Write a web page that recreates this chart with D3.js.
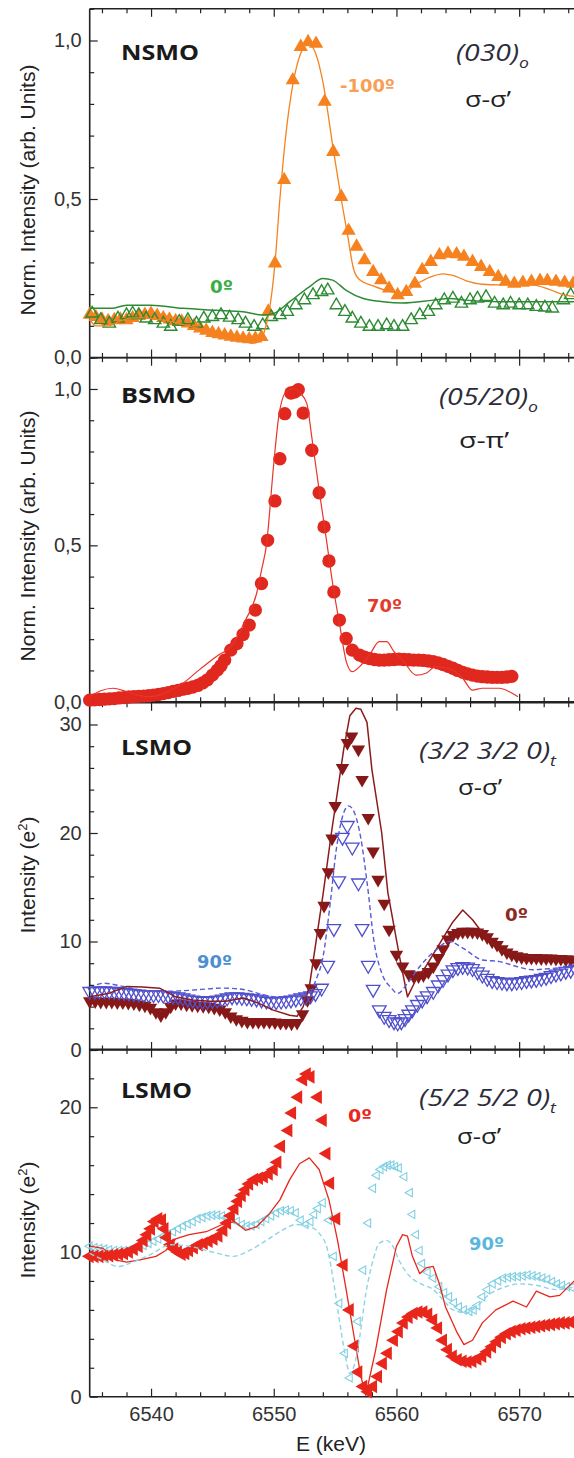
<!DOCTYPE html>
<html><head><meta charset="utf-8">
<script src="https://cdn.jsdelivr.net/npm/d3@7"></script>
<style>body{margin:0;background:#fff}svg{display:block}</style>
</head><body>
<svg id="c" width="574" height="1458"></svg>
<script>
// ---------------- DATA ----------------
const energyDomain = [6535, 6575];
const xMajorTicks = [6540, 6550, 6560, 6570];
const xTickLabels = ["6540", "6550", "6560", "6570"];

const normTickValues = [0, 0.5, 1.0];
const normTickLabels = ["0,0", "0,5", "1,0"];
const lsmoATickValues = [0, 10, 20, 30];
const lsmoATickLabels = ["0", "10", "20", "30"];
const lsmoBTickValues = [0, 10, 20];
const lsmoBTickLabels = ["0", "10", "20"];

// Panel 1: NSMO (030)o  sigma-sigma'
const nsmoM100Pts = [[6535.0,0.135],[6535.5,0.128],[6536.0,0.12],[6536.5,0.115],[6537.0,0.118],[6537.5,0.12],[6538.0,0.118],[6538.5,0.125],[6539.0,0.132],[6539.5,0.135],[6540.0,0.138],[6540.5,0.132],[6541.0,0.125],[6541.5,0.12],[6542.0,0.115],[6542.5,0.113],[6543.0,0.108],[6543.5,0.1],[6544.0,0.092],[6544.5,0.085],[6545.0,0.078],[6545.5,0.074],[6546.0,0.07],[6546.5,0.066],[6547.0,0.063],[6547.5,0.06],[6548.0,0.058],[6548.5,0.06],[6549.0,0.065],
 [6549.55,0.145],[6550.1,0.297],[6550.85,0.56],[6551.55,0.875],[6552.2,0.98],[6552.8,0.995],[6553.45,0.99],[6554.15,0.807],[6554.85,0.649],[6555.5,0.507],[6556.1,0.40],[6556.75,0.35],[6557.4,0.307],[6558.1,0.27],[6558.75,0.244],[6559.4,0.218],[6560.1,0.197],[6560.8,0.207],[6561.5,0.233],[6562.1,0.276],[6562.8,0.302],[6563.5,0.323],[6564.2,0.328],[6564.9,0.326],[6565.5,0.318],[6566.2,0.302],[6566.9,0.286],[6567.6,0.27],[6568.3,0.254],[6568.9,0.239],[6569.6,0.233],[6570.3,0.236],[6571.0,0.239],[6571.7,0.242],[6572.3,0.242],[6573.0,0.239],[6573.7,0.236],[6574.4,0.233]];
const nsmoM100Fit = [[6535.0,0.12],[6535.5,0.10],[6536.5,0.10],[6537.5,0.115],[6538.5,0.125],[6539.5,0.125],[6540.5,0.12],[6541.5,0.115],[6542.5,0.105],[6543.5,0.095],[6544.5,0.085],[6545.5,0.075],[6546.5,0.065],[6547.5,0.055],[6548.2,0.045],[6548.8,0.05],[6549.3,0.09],[6549.6,0.14],[6550.1,0.297],[6550.5,0.5],[6550.95,0.69],[6551.6,0.87],[6552.2,0.96],[6552.8,0.99],[6553.3,0.97],[6554.0,0.87],[6554.8,0.67],[6555.5,0.5],[6556.0,0.39],[6556.5,0.28],[6557.0,0.245],[6558.1,0.226],[6559.4,0.209],[6560.5,0.203],[6561.6,0.231],[6562.7,0.253],[6563.8,0.264],[6564.6,0.259],[6565.7,0.242],[6567.0,0.231],[6568.4,0.229],[6569.8,0.231],[6571.1,0.229],[6572.5,0.214],[6573.6,0.198],[6574.6,0.192]];
const nsmo0Pts = [[6535.2,0.139],[6535.9,0.118],[6536.6,0.107],[6537.3,0.123],[6538.0,0.134],[6538.5,0.139],[6539.0,0.134],[6539.6,0.123],[6540.3,0.118],[6541.0,0.107],[6541.6,0.097],[6542.3,0.113],[6543.0,0.118],[6543.7,0.107],[6544.3,0.123],[6545.0,0.128],[6545.7,0.134],[6546.4,0.126],[6547.1,0.118],[6547.7,0.107],[6548.4,0.097],[6549.1,0.102],[6549.8,0.128],[6550.5,0.134],[6551.1,0.144],[6551.8,0.165],[6552.5,0.181],[6553.2,0.197],[6553.9,0.207],[6554.4,0.212],[6555.1,0.165],[6555.8,0.144],[6556.4,0.123],[6557.1,0.107],[6557.8,0.097],[6558.5,0.097],[6559.2,0.102],[6559.8,0.097],[6560.5,0.097],[6561.2,0.118],[6561.9,0.134],[6562.6,0.144],[6563.2,0.165],[6563.9,0.181],[6564.6,0.186],[6565.3,0.17],[6566.0,0.181],[6566.6,0.186],[6567.3,0.191],[6568.0,0.17],[6568.7,0.165],[6569.3,0.17],[6570.0,0.165],[6570.7,0.165],[6571.4,0.16],[6572.1,0.158],[6572.7,0.155],[6573.6,0.181],[6574.2,0.197]];
const nsmo0Fit = [[6535.0,0.155],[6536.8,0.155],[6538.0,0.165],[6540.0,0.165],[6542.6,0.155],[6545.3,0.149],[6547.5,0.144],[6549.1,0.134],[6550.0,0.139],[6551.3,0.176],[6552.9,0.223],[6554.0,0.249],[6554.8,0.244],[6555.9,0.212],[6557.3,0.186],[6558.9,0.176],[6560.5,0.172],[6563.0,0.181],[6564.3,0.186],[6565.7,0.181],[6568.4,0.176],[6571.1,0.176],[6574.6,0.176]];

// Panel 2: BSMO (05/20)o  sigma-pi'
const bsmo70Pts = [[6535.0,0.005],[6535.4,0.006],[6535.8,0.007],[6536.2,0.008],[6536.6,0.009],[6537.0,0.01],[6537.4,0.012],[6537.8,0.013],[6538.2,0.015],[6538.6,0.016],[6539.0,0.017],[6539.4,0.018],[6539.8,0.019],[6540.2,0.021],[6540.6,0.023],[6541.0,0.026],[6541.4,0.029],[6541.8,0.033],[6542.2,0.036],[6542.6,0.04],[6543.0,0.043],[6543.4,0.047],[6543.8,0.052],[6544.2,0.06],[6544.6,0.07],[6545.0,0.085],[6545.4,0.101],[6545.7,0.115],[6546.0,0.133],[6546.5,0.165],[6547.0,0.186],[6547.5,0.215],[6548.0,0.245],[6548.5,0.293],[6549.0,0.378],[6549.5,0.516],[6550.1,0.642],[6550.5,0.777],[6550.9,0.921],[6551.4,0.987],[6551.7,0.99],[6552.0,0.998],[6552.4,0.923],[6553.1,0.804],[6553.7,0.668],[6554.1,0.559],[6554.5,0.45],[6554.9,0.351],[6555.35,0.261],[6555.9,0.202],[6556.4,0.165],[6557.0,0.149],[6557.4,0.142],[6557.8,0.138],[6558.2,0.135],[6558.6,0.133],[6559.0,0.133],[6559.4,0.134],[6559.8,0.135],[6560.2,0.136],[6560.6,0.135],[6561.0,0.134],[6561.4,0.133],[6561.8,0.133],[6562.2,0.132],[6562.6,0.13],[6563.0,0.128],[6563.4,0.124],[6563.8,0.119],[6564.2,0.113],[6564.6,0.107],[6565.0,0.1],[6565.4,0.094],[6565.8,0.089],[6566.2,0.085],[6566.6,0.082],[6567.0,0.08],[6567.4,0.079],[6567.8,0.078],[6568.2,0.078],[6568.6,0.078],[6569.0,0.079],[6569.4,0.081]];
const bsmo70Fit = [[6535.0,0.016],[6535.9,0.035],[6536.9,0.043],[6538.0,0.032],[6539.0,0.02],[6539.9,0.016],[6541.0,0.025],[6542.0,0.045],[6542.6,0.059],[6543.9,0.101],[6545.3,0.144],[6546.7,0.186],[6547.7,0.261],[6548.6,0.346],[6549.0,0.42],[6549.4,0.50],[6550.0,0.761],[6550.4,0.91],[6551.0,0.99],[6551.6,1.0],[6552.2,0.985],[6552.7,0.953],[6553.1,0.846],[6553.7,0.676],[6554.3,0.516],[6554.8,0.378],[6555.4,0.24],[6555.9,0.13],[6556.4,0.096],[6557.0,0.112],[6557.8,0.149],[6558.6,0.192],[6559.2,0.192],[6559.8,0.16],[6560.5,0.133],[6561.6,0.085],[6562.4,0.091],[6563.2,0.112],[6564.3,0.106],[6565.4,0.075],[6566.2,0.037],[6567.0,0.043],[6568.4,0.043],[6569.2,0.032],[6569.9,0.016]];

// Panel 3: LSMO (3/2 3/2 0)t sigma-sigma'
const lsmoA0Pts = [[6535.0,4.5],[6535.45,4.5],[6535.9,4.45],[6536.35,4.45],[6536.8,4.45],[6537.25,4.4],[6537.7,4.4],[6538.15,4.35],[6538.6,4.3],[6539.05,4.2],[6539.5,4.1],[6539.95,3.9],[6540.4,3.5],[6540.8,3.2],[6541.2,3.5],[6541.6,4.0],[6542.0,4.3],[6542.45,4.3],[6542.9,4.2],[6543.35,4.15],[6543.8,4.1],[6544.25,4.05],[6544.7,4.0],[6545.15,3.9],[6545.6,3.75],[6546.05,3.5],[6546.5,3.1],[6546.95,2.85],[6547.4,2.7],[6547.85,2.6],[6548.3,2.6],[6548.75,2.6],[6549.2,2.6],[6549.65,2.6],[6550.1,2.55],[6550.55,2.5],[6551.0,2.5],[6551.45,2.45],[6551.9,2.5],[6552.35,3.3],[6552.75,4.6],
 [6553.05,5.7],[6553.45,8.0],[6553.8,10.8],[6554.1,13.3],[6554.45,16.4],[6554.75,19.5],[6555.0,22.5],[6555.6,26.0],[6556.0,28.3],[6556.35,28.9],[6556.9,27.7],[6557.2,24.9],[6557.7,21.4],[6558.1,18.3],[6558.5,15.7],[6559.0,13.5],[6559.4,11.1],[6560.0,8.8],[6560.5,7.7],[6561.0,7.0],
 [6561.4,6.8],[6561.8,6.8],[6562.2,6.9],[6562.6,7.2],[6563.0,7.7],[6563.4,8.5],[6563.8,9.3],[6564.2,10.2],[6564.6,10.6],[6565.0,10.8],[6565.4,10.9],[6565.8,10.9],[6566.2,10.9],[6566.6,10.85],[6567.0,10.7],[6567.4,10.4],[6567.8,10.0],[6568.2,9.7],[6568.6,9.3],[6569.0,9.0],[6569.4,8.8],[6569.8,8.65],[6570.2,8.55],[6570.6,8.5],[6571.0,8.5],[6571.4,8.5],[6571.8,8.45],[6572.2,8.45],[6572.6,8.45],[6573.0,8.4],[6573.4,8.4],[6573.8,8.35],[6574.2,8.35],[6574.6,8.3]];
const lsmoA0Fit = [[6535.0,4.9],[6536.5,5.2],[6538.0,5.85],[6539.3,5.8],[6540.7,5.7],[6542.0,4.9],[6543.4,4.6],[6544.8,4.5],[6546.1,4.5],[6547.5,4.8],[6548.8,4.3],[6549.9,3.7],[6551.3,3.2],[6551.9,3.1],[6552.4,4.0],[6552.9,5.85],[6554.0,14.2],[6554.7,20.0],[6555.7,27.7],[6556.2,30.8],[6556.7,31.5],[6557.1,31.4],[6557.6,30.2],[6558.0,25.85],[6558.8,20.0],[6559.3,14.5],[6560.3,8.3],[6560.9,4.9],[6561.6,6.5],[6562.4,7.7],[6563.2,9.2],[6564.05,10.8],[6564.6,11.8],[6565.4,12.9],[6566.2,12.0],[6567.0,10.8],[6568.4,9.2],[6569.8,8.8],[6571.1,8.6],[6574.6,8.55]];
const lsmoA90Pts = [[6535.0,5.4],[6535.4,5.4],[6535.8,5.45],[6536.2,5.45],[6536.6,5.4],[6537.0,5.4],[6537.4,5.35],[6537.8,5.3],[6538.2,5.25],[6538.6,5.2],[6539.0,5.15],[6539.4,5.1],[6539.8,5.1],[6540.2,5.1],[6540.6,5.1],[6541.0,5.05],[6541.4,5.0],[6541.8,4.95],[6542.2,4.9],[6542.6,4.8],[6543.0,4.7],[6543.4,4.6],[6543.8,4.55],[6544.2,4.5],[6544.6,4.5],[6545.0,4.55],[6545.4,4.6],[6545.8,4.7],[6546.2,4.8],[6546.6,4.9],[6547.0,4.9],[6547.4,4.85],[6547.8,4.8],[6548.2,4.75],[6548.6,4.7],[6549.0,4.6],[6549.4,4.5],[6549.8,4.45],[6550.2,4.45],[6550.6,4.5],[6551.0,4.55],[6551.4,4.6],[6551.8,4.7],[6552.2,4.8],[6552.6,4.9],[6553.0,5.0],[6553.4,5.2],
 [6553.9,5.7],[6554.4,7.8],[6554.9,11.2],[6555.3,15.6],[6555.6,19.6],[6556.0,20.7],[6556.4,18.7],[6556.9,15.4],[6557.2,11.2],[6557.7,7.8],[6558.1,5.6],[6558.6,3.7],
 [6559.0,3.1],[6559.4,2.8],[6559.8,2.6],[6560.1,2.5],[6560.4,2.6],[6560.7,2.9],[6561.0,3.3],[6561.3,3.7],[6561.7,4.2],[6562.1,4.6],[6562.5,5.0],[6563.0,5.4],[6563.4,6.0],[6563.8,6.5],[6564.2,7.0],[6564.6,7.4],[6565.0,7.6],[6565.4,7.7],[6565.8,7.65],[6566.2,7.5],[6566.6,7.2],[6567.0,6.9],[6567.4,6.6],[6567.8,6.4],[6568.2,6.3],[6568.6,6.25],[6569.0,6.2],[6569.4,6.2],[6569.8,6.25],[6570.2,6.3],[6570.6,6.4],[6571.0,6.45],[6571.4,6.5],[6571.8,6.6],[6572.2,6.7],[6572.6,6.85],[6573.0,7.0],[6573.4,7.1],[6573.8,7.25],[6574.2,7.35],[6574.6,7.45]];
const lsmoA90Fit = [[6535.0,5.7],[6536.1,6.15],[6537.8,5.85],[6539.3,5.5],[6541.2,5.4],[6543.1,5.5],[6545.8,5.7],[6547.4,5.6],[6548.8,5.2],[6550.1,4.9],[6551.8,4.9],[6552.9,5.2],[6553.45,6.5],[6554.0,8.5],[6554.6,13.5],[6555.1,18.5],[6555.6,21.5],[6556.1,22.5],[6556.6,21.8],[6557.1,19.5],[6557.6,15.5],[6558.2,9.8],[6558.8,7.1],[6559.6,5.7],[6560.1,5.2],[6560.9,6.15],[6561.9,7.7],[6563.2,9.2],[6564.3,10.0],[6565.4,9.4],[6567.0,8.3],[6568.4,8.15],[6569.8,7.7],[6571.1,7.4],[6572.5,7.5],[6574.6,7.7]];

// Panel 4: LSMO (5/2 5/2 0)t sigma-sigma'
const lsmoB0Pts = [[6535.0,9.7],[6535.4,9.7],[6535.8,9.7],[6536.2,9.7],[6536.6,9.75],[6537.0,9.8],[6537.4,9.85],[6537.8,9.9],[6538.2,10.0],[6538.6,10.2],[6539.0,10.4],[6539.4,10.8],[6539.7,11.2],[6540.0,11.6],[6540.3,12.1],[6540.6,12.3],[6540.9,12.2],[6541.1,11.6],[6541.3,11.0],[6541.6,10.5],[6541.9,10.2],[6542.2,10.0],[6542.5,9.85],[6542.8,9.9],[6543.1,10.1],[6543.5,10.3],[6543.9,10.5],[6544.3,10.6],[6544.7,10.75],[6545.1,10.9],[6545.5,11.1],[6545.9,11.5],[6546.2,12.0],[6546.5,12.5],[6546.8,13.0],[6547.1,13.5],[6547.4,13.9],[6547.7,14.3],[6548.0,14.7],[6548.4,15.0],[6548.8,15.1],[6549.2,15.2],[6549.6,15.4],[6550.0,15.7],[6550.3,16.2],
 [6550.6,17.3],[6551.2,18.4],[6551.5,19.6],[6552.0,20.7],[6552.4,21.9],[6552.7,22.3],[6553.0,22.1],[6553.6,20.7],[6554.0,19.1],[6554.3,16.8],[6554.6,14.75],[6555.1,12.3],[6555.7,9.1],[6556.2,6.0],[6556.6,3.5],[6556.9,1.7],[6557.3,0.7],[6557.7,0.35],
 [6558.1,0.7],[6558.5,1.4],[6558.9,2.3],[6559.3,3.0],[6559.8,3.9],[6560.2,4.5],[6560.6,5.1],[6561.0,5.5],[6561.4,5.75],[6561.8,5.85],[6562.2,5.85],[6562.6,5.7],[6563.0,5.3],[6563.4,4.75],[6563.8,3.9],[6564.2,3.25],[6564.6,2.8],[6565.0,2.55],[6565.4,2.45],[6565.8,2.4],[6566.2,2.45],[6566.6,2.6],[6567.0,2.8],[6567.4,3.1],[6567.8,3.45],[6568.2,3.8],[6568.6,4.1],[6569.0,4.35],[6569.4,4.5],[6569.8,4.6],[6570.2,4.7],[6570.6,4.75],[6571.0,4.8],[6571.4,4.85],[6571.8,4.9],[6572.2,4.95],[6572.6,5.0],[6573.0,5.05],[6573.4,5.1],[6573.8,5.1],[6574.2,5.15],[6574.6,5.2]];
const lsmoB0Fit = [[6535.0,10.4],[6536.1,10.25],[6537.1,9.45],[6538.0,9.3],[6539.1,9.45],[6540.4,9.7],[6541.2,10.1],[6542.0,10.9],[6543.1,11.2],[6544.5,11.4],[6545.8,11.9],[6546.8,12.1],[6547.7,11.5],[6548.6,11.75],[6549.6,12.6],[6550.5,13.6],[6551.3,15.0],[6552.1,16.1],[6552.9,16.5],[6553.7,15.7],[6554.5,13.6],[6555.2,10.8],[6555.9,7.4],[6556.6,3.9],[6557.1,1.4],[6557.5,0.1],[6558.3,3.2],[6559.2,7.4],[6560.0,10.4],[6560.5,11.2],[6560.9,11.1],[6561.3,9.7],[6561.9,8.5],[6562.4,8.9],[6563.0,9.0],[6563.5,7.8],[6564.0,6.2],[6564.9,4.5],[6565.5,3.6],[6566.2,3.9],[6567.0,5.1],[6568.1,6.0],[6569.5,6.6],[6570.6,6.2],[6571.4,7.3],[6572.5,6.9],[6573.3,7.0],[6574.6,8.1]];
const lsmoB90Pts = [[6535.0,10.4],[6535.4,10.3],[6535.8,10.25],[6536.2,10.2],[6536.6,10.15],[6537.0,10.1],[6537.4,10.1],[6537.8,10.1],[6538.2,10.15],[6538.6,10.2],[6539.0,10.3],[6539.4,10.45],[6539.8,10.6],[6540.2,10.75],[6540.6,10.9],[6541.0,11.1],[6541.4,11.25],[6541.8,11.4],[6542.2,11.6],[6542.6,11.8],[6543.0,11.95],[6543.4,12.1],[6543.8,12.3],[6544.2,12.4],[6544.6,12.5],[6545.0,12.55],[6545.4,12.55],[6545.8,12.5],[6546.2,12.4],[6546.6,12.25],[6547.0,12.1],[6547.4,11.9],[6547.8,11.8],[6548.2,11.8],[6548.6,11.9],[6549.0,12.1],[6549.4,12.3],[6549.8,12.5],[6550.2,12.7],[6550.6,12.85],[6551.0,12.9],[6551.4,12.85],[6551.8,12.7],[6552.2,12.2],[6552.6,11.9],[6553.0,12.1],[6553.3,12.6],[6553.6,13.0],[6554.0,13.4],
 [6554.5,12.2],[6554.9,9.7],[6555.35,6.45],[6555.8,3.0],[6556.2,1.3],[6556.85,5.2],[6557.3,8.75],[6557.7,12.0],[6558.1,14.4],[6558.4,15.3],[6558.7,15.7],[6559.0,15.9],[6559.3,16.0],[6559.6,16.0],[6559.9,15.9],[6560.2,15.8],[6560.65,15.2],[6561.1,14.1],[6561.3,12.6],[6561.6,11.2],[6561.9,10.1],[6562.1,9.2],[6562.55,8.6],[6563.0,8.2],[6563.5,7.6],[6563.9,7.2],[6564.3,6.9],[6564.7,6.5],[6565.1,6.2],[6565.5,6.0],[6565.95,5.9],[6566.3,6.0],[6566.6,6.3],[6567.0,6.9],[6567.4,7.4],[6567.85,7.8],[6568.3,8.0],[6568.7,8.2],[6569.1,8.25],[6569.5,8.3],[6569.9,8.3],[6570.3,8.35],[6570.7,8.4],[6571.1,8.35],[6571.5,8.3],[6571.9,8.2],[6572.3,8.1],[6572.7,7.95],[6573.1,7.8],[6573.5,7.7],[6573.9,7.6],[6574.3,7.55]];
const lsmoB90Fit = [[6535.0,9.9],[6536.1,9.45],[6537.3,9.0],[6538.5,9.3],[6539.9,9.8],[6541.6,10.5],[6543.1,10.4],[6545.0,10.0],[6546.7,9.7],[6548.0,10.1],[6549.4,10.8],[6550.7,11.5],[6551.8,11.9],[6552.9,11.75],[6553.7,11.3],[6554.4,10.1],[6554.9,7.8],[6555.35,5.3],[6555.8,3.0],[6556.2,1.6],[6556.6,2.3],[6557.0,4.1],[6557.5,7.1],[6558.1,9.45],[6558.6,10.6],[6559.2,10.8],[6559.7,10.4],[6560.2,9.45],[6561.1,8.3],[6562.0,7.8],[6563.0,7.4],[6563.8,6.7],[6564.6,6.0],[6565.7,5.8],[6566.5,6.2],[6567.6,7.1],[6568.9,7.6],[6570.0,7.8],[6571.4,7.7],[6573.0,7.4],[6574.6,7.6]];

// ---------------- DRAW ----------------
const svg = d3.select('#c');
const W = 574;
const x = d3.scaleLinear().domain(energyDomain).range([89.7, 580.5]);
const tickFont = '"Liberation Sans", Arial, sans-serif';
const labFont = '"Open Sans", sans-serif';

const panels = [
  {y: d3.scaleLinear().domain([0, 1.1]).range([357.5, 8.8]), major: normTickValues, labels: normTickLabels, minorStep: 0.1, top: 8.8, bottom: 357.5},
  {y: d3.scaleLinear().domain([0, 1.1]).range([701.7, 357.7]), major: normTickValues, labels: normTickLabels, minorStep: 0.1, top: 357.7, bottom: 701.7},
  {y: d3.scaleLinear().domain([0, 32]).range([1050, 702.8]), major: lsmoATickValues, labels: lsmoATickLabels, minorStep: 2, top: 702.8, bottom: 1050},
  {y: d3.scaleLinear().domain([0, 24]).range([1396.7, 1049.4]), major: lsmoBTickValues, labels: lsmoBTickLabels, minorStep: 2, top: 1049.4, bottom: 1396.7}
];

const xMinor = d3.range(6536, 6575, 2).filter(v => v % 10 !== 0);

function styleAxis(g) {
  g.select('.domain').remove();
  g.selectAll('line').attr('stroke', '#222').attr('stroke-width', 1.2);
  g.selectAll('text').attr('font-family', tickFont).attr('font-size', 20).attr('fill', '#333');
}

panels.forEach((p, i) => {
  const g = svg.append('g');
  const dmax = p.y.domain()[1];
  const yMinor = d3.range(0, dmax + 1e-9, p.minorStep).map(v => +v.toFixed(3)).filter(v => !p.major.some(m => Math.abs(m - v) < 1e-6));
  g.append('g').attr('transform', `translate(${x.range()[0]},0)`)
    .call(d3.axisLeft(p.y).tickValues(yMinor).tickSizeInner(-4.5).tickSizeOuter(0).tickFormat(''))
    .call(styleAxis);
  g.append('g').attr('transform', `translate(${x.range()[0]},0)`)
    .call(d3.axisLeft(p.y).tickValues(p.major).tickSizeInner(-8).tickSizeOuter(0).tickPadding(8)
      .tickFormat((d, k) => p.labels[k]))
    .call(styleAxis);
  [['top', p.top], ['bottom', p.bottom]].forEach(([side, yy]) => {
    const mk = side === 'top' ? d3.axisTop : d3.axisBottom;
    g.append('g').attr('transform', `translate(0,${yy})`)
      .call(mk(x).tickValues(xMinor).tickSizeInner(-4.5).tickSizeOuter(0).tickFormat(''))
      .call(styleAxis);
    const showLab = (side === 'bottom' && i === 3);
    g.append('g').attr('transform', `translate(0,${yy})`)
      .call(mk(x).tickValues(xMajorTicks).tickSizeInner(-8).tickSizeOuter(0).tickPadding(10)
        .tickFormat((d, k) => showLab ? xTickLabels[k] : ''))
      .call(styleAxis);
  });
  g.append('line').attr('x1', x.range()[0]).attr('x2', W + 5).attr('y1', p.top).attr('y2', p.top).attr('stroke', '#222').attr('stroke-width', 1.6);
  g.append('line').attr('x1', x.range()[0]).attr('x2', W + 5).attr('y1', p.bottom).attr('y2', p.bottom).attr('stroke', '#222').attr('stroke-width', 1.6);
  g.append('line').attr('x1', x.range()[0]).attr('x2', x.range()[0]).attr('y1', p.top).attr('y2', p.bottom).attr('stroke', '#222').attr('stroke-width', 1.6);
});

function drawMarkers(p, data, opts) {
  const sym = d3.symbol().type(opts.type).size(opts.size)();
  svg.append('g').selectAll('path').data(data).join('path')
    .attr('d', sym)
    .attr('transform', d => `translate(${x(d[0])},${p.y(d[1])}) rotate(${opts.rot || 0})`)
    .attr('fill', opts.fill || 'none')
    .attr('stroke', opts.stroke || 'none')
    .attr('stroke-width', opts.sw || 0);
}
function drawLine(p, data, opts) {
  const line = d3.line().x(d => x(d[0])).y(d => p.y(d[1])).curve(opts.curve || d3.curveLinear);
  svg.append('path').datum(data).attr('d', line)
    .attr('fill', 'none').attr('stroke', opts.color).attr('stroke-width', opts.w || 1.3)
    .attr('stroke-dasharray', opts.dash || null).attr('stroke-linejoin', 'round');
}

const P = panels;
// Panel 1
drawMarkers(P[0], nsmoM100Pts, {type: d3.symbolTriangle, size: 88, fill: '#f5821f'});
drawMarkers(P[0], nsmo0Pts, {type: d3.symbolTriangle, size: 66, stroke: '#2e8b34', sw: 1.4});
drawLine(P[0], nsmoM100Fit, {color: '#f5821f', w: 1.3, curve: d3.curveMonotoneX});
drawLine(P[0], nsmo0Fit, {color: '#2e8b34', w: 1.5, curve: d3.curveMonotoneX});
// Panel 2
drawMarkers(P[1], bsmo70Pts, {type: d3.symbolCircle, size: 140, fill: '#e0281e'});
drawLine(P[1], bsmo70Fit, {color: '#e8342a', w: 1.2, curve: d3.curveMonotoneX});
// Panel 3
drawMarkers(P[2], lsmoA0Pts, {type: d3.symbolTriangle, size: 78, fill: '#861818', rot: 180});
drawMarkers(P[2], lsmoA90Pts, {type: d3.symbolTriangle, size: 80, stroke: '#4f4fcc', sw: 1.3, rot: 180});
drawLine(P[2], lsmoA0Fit, {color: '#8b1c1c', w: 1.5});
drawLine(P[2], lsmoA90Fit, {color: '#5a5ad4', w: 1.4, dash: '5,3', curve: d3.curveMonotoneX});
// Panel 4
drawMarkers(P[3], lsmoB90Pts, {type: d3.symbolTriangle, size: 30, stroke: '#7fd0e2', sw: 1.1, rot: -90});
drawMarkers(P[3], lsmoB0Pts, {type: d3.symbolTriangle, size: 80, fill: '#e8261c', rot: -90});
drawLine(P[3], lsmoB0Fit, {color: '#e8261c', w: 1.3});
drawLine(P[3], lsmoB90Fit, {color: '#8fd4e6', w: 1.4, dash: '5,3', curve: d3.curveMonotoneX});

// ---------------- TEXT ----------------
function txt(s, xx, yy, o) {
  const t = svg.append('text').attr('x', xx).attr('y', yy)
    .attr('font-family', o.family || labFont).attr('font-size', o.size)
    .attr('font-weight', o.weight || 'normal').attr('font-style', o.style || 'normal')
    .attr('fill', o.color || '#222').attr('text-anchor', o.anchor || 'start');
  if (o.tl) t.attr('textLength', o.tl).attr('lengthAdjust', 'spacingAndGlyphs');
  if (o.sub !== undefined) {
    t.append('tspan').text(s);
    t.append('tspan').text(o.sub).attr('font-size', o.size * 0.62).attr('dy', o.size * 0.3);
  } else t.text(s);
  return t;
}
txt('NSMO', 121, 60, {size: 22, weight: 700, tl: 78, color: '#1a1a1a'});
txt('BSMO', 121, 403, {size: 22, weight: 700, tl: 75, color: '#1a1a1a'});
txt('LSMO', 121, 755, {size: 22, weight: 700, tl: 71, color: '#1a1a1a'});
txt('LSMO', 121, 1098, {size: 22, weight: 700, tl: 71, color: '#1a1a1a'});
txt('(030)', 456, 61, {size: 24, style: 'italic', sub: 'o', tl: 73, color: '#2c2c3a'});
txt('(05/20)', 439, 405, {size: 24, style: 'italic', sub: 'o', tl: 99, color: '#2c2c3a'});
txt('(3/2 3/2 0)', 419, 759, {size: 24, style: 'italic', sub: 't', tl: 137, color: '#2c2c3a'});
txt('(5/2 5/2 0)', 419, 1106, {size: 24, style: 'italic', sub: 't', tl: 137, color: '#2c2c3a'});
txt('σ-σ’', 465, 107, {size: 22, tl: 46, color: '#222'});
txt('σ-π’', 459, 448, {size: 22, tl: 50, color: '#222'});
txt('σ-σ’', 458, 795, {size: 22, tl: 44, color: '#222'});
txt('σ-σ’', 457, 1144, {size: 22, tl: 44, color: '#222'});
const angFont = '"DejaVu Sans", sans-serif';
txt('-100º', 340, 92, {size: 17, weight: 700, tl: 55, color: '#f7a055', family: angFont});
txt('0º', 210, 293, {size: 17, weight: 700, tl: 23, color: '#3aae44', family: angFont});
txt('70º', 367, 612, {size: 17, weight: 700, tl: 35, color: '#e23a2c', family: angFont});
txt('90º', 197, 968, {size: 17, weight: 700, tl: 35, color: '#4b8fd2', family: angFont});
txt('0º', 505, 921, {size: 17, weight: 700, tl: 23, color: '#8b2a22', family: angFont});
txt('0º', 348, 1122, {size: 17, weight: 700, tl: 24, color: '#e8281e', family: angFont});
txt('90º', 469, 1250, {size: 17, weight: 700, tl: 35, color: '#5ab6dc', family: angFont});

function ytitle(cy, build) {
  const t = svg.append('text').attr('transform', `translate(27.5,${cy}) rotate(-90)`)
    .attr('text-anchor', 'middle').attr('dy', '0.35em')
    .attr('font-family', tickFont).attr('font-size', 21).attr('fill', '#222');
  build(t);
}
ytitle(190, t => t.text('Norm. Intensity (arb. Units)'));
ytitle(536, t => t.text('Norm. Intensity (arb. Units)'));
[875, 1220].forEach(cy => ytitle(cy, t => {
  t.append('tspan').text('Intensity (e');
  t.append('tspan').text('2').attr('font-size', 13).attr('dy', -8);
  t.append('tspan').text(')').attr('dy', 8);
}));
svg.append('text').attr('x', 331).attr('y', 1451).attr('text-anchor', 'middle')
  .attr('font-family', tickFont).attr('font-size', 21).attr('fill', '#222').text('E (keV)');
</script>
</body></html>
